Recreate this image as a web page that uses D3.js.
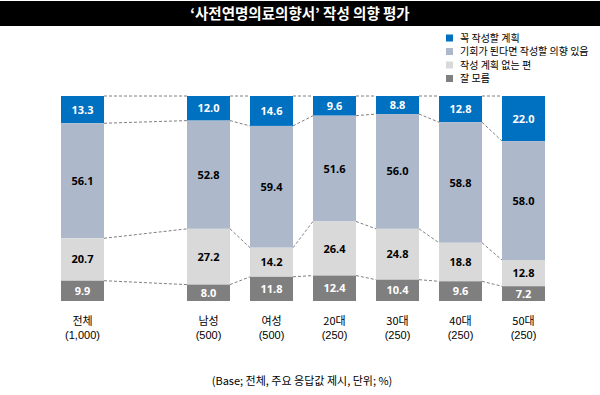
<!DOCTYPE html>
<html>
<head>
<meta charset="utf-8">
<script src="https://cdn.jsdelivr.net/npm/d3@7"></script>
<style>
  body { margin: 0; background: #fff; }
  svg { display: block; font-family: "Noto Sans CJK KR", "Noto Sans", sans-serif; }
</style>
</head>
<body>
<script>
// categories (null = empty slot between 전체 and 남성)
var groups = ["전체", null, "남성", "여성", "20대", "30대", "40대", "50대"];
var bases = ["(1,000)", null, "(500)", "(500)", "(250)", "(250)", "(250)", "(250)"];
var seriesNames = ["꼭 작성할 계획", "기회가 된다면 작성할 의향 있음", "작성 계획 없는 편", "잘 모름"];
var definite = [13.3, null, 12.0, 14.6, 9.6, 8.8, 12.8, 22.0];
var maybe    = [56.1, null, 52.8, 59.4, 51.6, 56.0, 58.8, 58.0];
var noPlan   = [20.7, null, 27.2, 14.2, 26.4, 24.8, 18.8, 12.8];
var unknown  = [9.9,  null, 8.0, 11.8, 12.4, 10.4, 9.6, 7.2];

var colors = ["#0070c0", "#adb9ca", "#d9d9d9", "#7f7f7f"];
var textColors = ["#fff", "#000", "#000", "#fff"];

var width = 600, height = 395;

var svg = d3.select("body").append("svg")
    .attr("width", width)
    .attr("height", height);

// title bar
svg.append("rect")
    .attr("x", 0).attr("y", 1)
    .attr("width", width).attr("height", 25)
    .attr("fill", "#000");
svg.append("text")
    .attr("x", 300).attr("y", 19)
    .attr("text-anchor", "middle")
    .attr("fill", "#fff")
    .attr("font-size", 14.5)
    .attr("font-weight", "bold")
    .text("‘사전연명의료의향서’ 작성 의향 평가");

// legend
var legend = svg.append("g").attr("transform", "translate(446,0)");
seriesNames.forEach(function (name, i) {
    var cy = 38 + i * 13.5;
    legend.append("rect")
        .attr("x", 0).attr("y", cy - 3.5)
        .attr("width", 7).attr("height", 7)
        .attr("fill", colors[i]);
    legend.append("text")
        .attr("x", 14).attr("y", cy + 3.5)
        .attr("font-size", 10)
        .attr("fill", "#000")
        .text(name);
});

var keys = groups.map(function (g, i) { return "k" + i; });
var x = d3.scaleBand()
    .domain(keys)
    .range([51, 555])
    .paddingInner(20 / 63)
    .paddingOuter(10 / 63);

var y = d3.scaleLinear().domain([0, 100]).range([96, 301]);

// build stacked table
var rows = [];
groups.forEach(function (g, i) {
    if (g === null) return;
    var vals = [definite[i], maybe[i], noPlan[i], unknown[i]];
    var acc = 0;
    var segs = vals.map(function (v, s) {
        var seg = { s: s, v: v, y0: acc, y1: acc + v, key: keys[i] };
        acc += v;
        return seg;
    });
    rows.push({ key: keys[i], name: g, base: bases[i], segs: segs });
});

// dashed connectors
var lines = svg.append("g");
for (var r = 0; r < rows.length - 1; r++) {
    var a = rows[r], b = rows[r + 1];
    for (var s = 0; s < 4; s++) {
        lines.append("line")
            .attr("x1", x(a.key) + x.bandwidth())
            .attr("x2", x(b.key))
            .attr("y1", y(a.segs[s].y0))
            .attr("y2", y(b.segs[s].y0))
            .attr("stroke", "#7f7f7f")
            .attr("stroke-width", 1)
            .attr("stroke-dasharray", "3,2");
    }
}

// bars
var bar = svg.selectAll(".bar")
    .data(rows)
    .enter().append("g")
    .attr("class", "bar");

bar.selectAll("rect")
    .data(function (d) { return d.segs; })
    .enter().append("rect")
    .attr("x", function (d) { return x(d.key); })
    .attr("y", function (d) { return y(d.y0); })
    .attr("width", x.bandwidth())
    .attr("height", function (d) { return y(d.y1) - y(d.y0); })
    .attr("fill", function (d) { return colors[d.s]; });

bar.selectAll("text.val")
    .data(function (d) { return d.segs; })
    .enter().append("text")
    .attr("class", "val")
    .attr("x", function (d) { return x(d.key) + x.bandwidth() / 2; })
    .attr("y", function (d) { return (y(d.y0) + y(d.y1)) / 2 + 4; })
    .attr("text-anchor", "middle")
    .attr("font-family", "'Open Sans', sans-serif")
    .attr("font-weight", "bold")
    .attr("font-size", 11)
    .attr("fill", function (d) { return textColors[d.s]; })
    .text(function (d) { return d.v.toFixed(1); });

// category labels
var cat = svg.append("g");
rows.forEach(function (d) {
    var cx = x(d.key) + x.bandwidth() / 2;
    cat.append("text")
        .attr("x", cx).attr("y", 325)
        .attr("text-anchor", "middle")
        .attr("font-size", 11)
        .attr("fill", "#000")
        .text(d.name);
    cat.append("text")
        .attr("x", cx).attr("y", 339)
        .attr("text-anchor", "middle")
        .attr("font-family", "'Liberation Sans', sans-serif")
        .attr("font-size", 11)
        .attr("fill", "#000")
        .text(d.base);
});

// footnote
svg.append("text")
    .attr("x", 302).attr("y", 385)
    .attr("text-anchor", "middle")
    .attr("font-size", 11)
    .attr("fill", "#000")
    .text("(Base; 전체, 주요 응답값 제시, 단위; %)");
</script>
</body>
</html>
